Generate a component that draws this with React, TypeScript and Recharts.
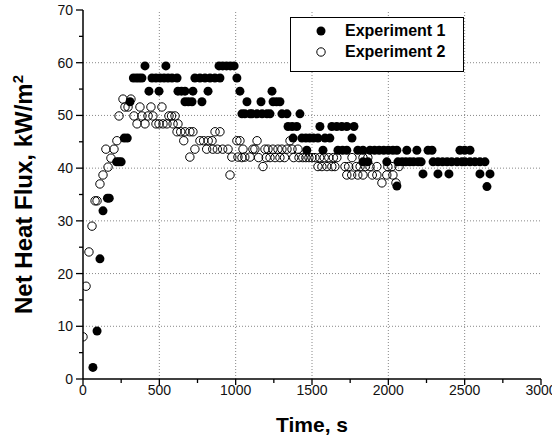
import React from "react";
import { ScatterChart, Scatter, XAxis, YAxis, ReferenceLine, Legend } from "recharts";

const FONT = '"Liberation Sans", Arial, Helvetica, sans-serif';

const seriesNames = ["Experiment 1", "Experiment 2"];
const timeTicks = [0, 250, 500, 750, 1000, 1250, 1500, 1750, 2000, 2250, 2500, 2750, 3000];
const fluxTicks = [0, 5, 10, 15, 20, 25, 30, 35, 40, 45, 50, 55, 60, 65, 70];
const timeGrid = [500, 1000, 1500, 2000, 2500];
const fluxGrid = [10, 20, 30, 40, 50, 60];

// [time s, net heat flux kW/m2]
const experiment1: [number, number][] = [
  [65, 2.2], [92, 9.1], [111, 22.8], [131, 31.9], [160, 34.3], [172, 34.3],
  [220, 41.2], [235, 41.2], [250, 41.2], [270, 45.7], [290, 45.7], [308, 52.6],
  [330, 57.1], [350, 57.1], [368, 57.1], [386, 57.1], [406, 59.4], [432, 54.6],
  [452, 57.1], [478, 57.1], [498, 54.6], [505, 57.1], [531, 57.1], [543, 59.4],
  [557, 57.1], [583, 57.1], [616, 57.1], [622, 54.6], [645, 54.6], [668, 54.6],
  [668, 52.6], [690, 52.6], [714, 52.6], [720, 54.6], [733, 57.1], [766, 57.1],
  [779, 52.6], [799, 57.1], [819, 54.6], [832, 57.1], [864, 57.1], [897, 57.1],
  [891, 59.4], [915, 59.4], [940, 59.4], [965, 59.4], [990, 59.4], [1008, 57.1],
  [1028, 54.6], [1041, 50.3], [1060, 50.3], [1074, 52.6], [1094, 50.3], [1107, 50.3],
  [1140, 50.3], [1166, 52.6], [1173, 50.3], [1205, 50.3], [1225, 50.3], [1238, 54.6],
  [1245, 52.6], [1268, 52.6], [1290, 52.6], [1303, 50.3], [1336, 50.3], [1343, 47.9],
  [1370, 47.9], [1376, 45.7], [1400, 47.9], [1421, 50.3], [1434, 45.7], [1460, 45.7],
  [1466, 43.4], [1485, 45.7], [1510, 45.7], [1539, 45.7], [1552, 47.9], [1572, 43.4],
  [1585, 45.7], [1617, 45.7], [1630, 47.9], [1662, 47.9], [1670, 43.4], [1695, 47.9],
  [1700, 43.4], [1728, 47.9], [1728, 43.4], [1762, 45.7], [1775, 47.9], [1800, 43.4],
  [1834, 43.4], [1834, 41.2], [1866, 41.2], [1880, 43.4], [1910, 43.4], [1940, 43.4],
  [1970, 43.4], [1990, 41.2], [2000, 43.4], [2030, 43.4], [2056, 43.4], [2056, 36.6],
  [2063, 41.2], [2090, 41.2], [2115, 41.2], [2121, 43.4], [2141, 41.2], [2165, 41.2],
  [2187, 43.4], [2195, 41.2], [2215, 41.2], [2227, 38.9], [2260, 43.4], [2286, 43.4],
  [2293, 41.2], [2325, 41.2], [2325, 38.9], [2355, 41.2], [2385, 41.2], [2397, 38.9],
  [2415, 41.2], [2450, 41.2], [2469, 43.4], [2482, 41.2], [2500, 43.4], [2535, 43.4],
  [2502, 41.2], [2535, 41.2], [2567, 41.2], [2600, 41.2], [2600, 38.9], [2633, 41.2],
  [2646, 36.5], [2666, 38.9],
];

const experiment2: [number, number][] = [
  [0, 8.0], [20, 17.6], [39, 24.1], [59, 29.0], [79, 33.8], [92, 33.8],
  [111, 37.0], [131, 38.7], [150, 43.6], [164, 40.2], [183, 41.9], [203, 43.6],
  [222, 45.2], [236, 49.9], [262, 53.1], [275, 51.6], [295, 51.6], [314, 53.1],
  [334, 49.9], [354, 48.4], [373, 51.6], [386, 49.9], [406, 48.4], [426, 49.9],
  [445, 51.6], [458, 49.9], [478, 48.4], [498, 48.4], [517, 51.6], [524, 48.4],
  [550, 48.4], [563, 49.9], [580, 49.9], [603, 49.9], [590, 48.4], [622, 48.4],
  [616, 46.9], [640, 46.9], [660, 45.2], [668, 46.9], [700, 46.9], [700, 42.1],
  [720, 46.9], [733, 43.6], [766, 45.2], [790, 45.2], [810, 43.6], [820, 45.2],
  [845, 45.2], [850, 43.6], [865, 46.9], [880, 43.6], [897, 46.9], [915, 43.6],
  [950, 43.6], [963, 38.7], [975, 42.1], [1008, 45.2], [1015, 42.1], [1028, 45.2],
  [1041, 42.0], [1048, 43.6], [1060, 42.1], [1094, 42.1], [1113, 43.6], [1126, 43.6],
  [1140, 45.2], [1150, 42.0], [1179, 40.3], [1192, 43.6], [1200, 42.0], [1212, 43.6],
  [1225, 42.0], [1244, 43.6], [1258, 42.0], [1277, 43.6], [1290, 42.0], [1303, 43.6],
  [1320, 42.0], [1336, 43.6], [1356, 45.2], [1369, 43.6], [1380, 42.0], [1408, 43.6],
  [1415, 42.0], [1440, 42.0], [1460, 42.0], [1480, 42.0], [1500, 42.0], [1520, 42.0],
  [1539, 40.3], [1550, 42.0], [1565, 40.3], [1580, 42.0], [1598, 40.3], [1610, 42.0],
  [1630, 40.3], [1640, 42.0], [1650, 40.3], [1663, 42.0], [1716, 40.3], [1728, 38.7],
  [1740, 40.3], [1760, 38.7], [1762, 42.0], [1790, 40.3], [1800, 38.7], [1815, 40.3],
  [1834, 38.7], [1834, 42.0], [1850, 40.3], [1866, 42.0], [1880, 40.3], [1895, 38.7],
  [1925, 40.3], [1925, 38.7], [1958, 37.2], [1990, 38.7], [1997, 40.3], [2023, 40.3],
  [2030, 38.7], [2050, 37.2], [2070, 40.3],
];

const toPoints = (rows: [number, number][]) => rows.map(([t, q]) => ({ t, q }));

function BottomTick({ x, y, payload }: any) {
  const major = payload.value % 500 === 0;
  return (
    <g>
      <line x1={x} x2={x} y1={y} y2={y + (major ? 6 : 4)} stroke="#000" strokeWidth={1.3} />
      {major && (
        <text x={x} y={y + 16} textAnchor="middle" fontSize={14} fontFamily={FONT} fill="#111">
          {payload.value}
        </text>
      )}
    </g>
  );
}

function TopTick({ x, y, payload }: any) {
  const major = payload.value % 500 === 0;
  return <line x1={x} x2={x} y1={y} y2={y + (major ? 6 : 4)} stroke="#000" strokeWidth={1.3} />;
}

function LeftTick({ x, y, payload }: any) {
  const major = payload.value % 10 === 0;
  return (
    <g>
      <line x1={x - (major ? 7 : 4)} x2={x} y1={y} y2={y} stroke="#000" strokeWidth={1.3} />
      {major && (
        <text x={x - 10} y={y + 5} textAnchor="end" fontSize={14} fontFamily={FONT} fill="#111">
          {payload.value}
        </text>
      )}
    </g>
  );
}

function RightTick({ x, y, payload }: any) {
  const major = payload.value % 10 === 0;
  return <line x1={x - (major ? 6 : 4)} x2={x} y1={y} y2={y} stroke="#000" strokeWidth={1.3} />;
}

function TimeTitle({ viewBox }: any) {
  return (
    <text x={viewBox.x + viewBox.width / 2} y={viewBox.y + 53} textAnchor="middle"
      fontSize={21} fontWeight="bold" fontFamily={FONT} fill="#000">
      Time, s
    </text>
  );
}

function FluxTitle({ viewBox }: any) {
  const cx = viewBox.x + 32;
  const cy = viewBox.y + viewBox.height / 2;
  return (
    <text x={cx} y={cy} transform={`rotate(-90, ${cx}, ${cy})`} textAnchor="middle"
      fontSize={24} fontWeight="bold" fontFamily={FONT} fill="#000">
      Net Heat Flux, kW/m<tspan fontSize={15} dy={-9}>2</tspan>
    </text>
  );
}

function LegendBox() {
  return (
    <div style={{
      width: 174, height: 55, boxSizing: "border-box", border: "1px solid #000",
      background: "#fff", position: "relative", fontFamily: FONT, fontWeight: "bold", fontSize: 16,
    }}>
      {seriesNames.map((name, i) => (
        <div key={name} style={{ position: "absolute", left: 0, top: 3 + i * 21, height: 20, display: "flex", alignItems: "center" }}>
          <svg width={54} height={20} style={{ display: "block" }}>
            {i === 0
              ? <circle cx={30} cy={10} r={4.5} fill="#000" />
              : <circle cx={30} cy={10} r={4.2} fill="#fff" stroke="#000" strokeWidth={1} />}
          </svg>
          <span style={{ lineHeight: "20px", color: "#000" }}>{name}</span>
        </div>
      ))}
    </div>
  );
}

export default function App() {
  return (
    <div style={{ position: "absolute", left: 0, top: 0, background: "#fff" }}>
      <ScatterChart width={552} height={442} margin={{ top: 10, right: 11, bottom: 0, left: 0 }}>
        <XAxis type="number" dataKey="t" domain={[0, 3000]} ticks={timeTicks} interval={0}
          tickSize={0} tickMargin={0} tickLine={false} tick={<BottomTick />} height={63}
          axisLine={{ stroke: "#000", strokeWidth: 1.5 }} label={<TimeTitle />} allowDataOverflow />
        <XAxis xAxisId="top" orientation="top" type="number" domain={[0, 3000]} ticks={timeTicks}
          interval={0} tickSize={0} tickMargin={0} tickLine={false} tick={<TopTick />} height={0}
          axisLine={{ stroke: "#000", strokeWidth: 1.5 }} />
        <YAxis type="number" dataKey="q" domain={[0, 70]} ticks={fluxTicks} interval={0}
          tickSize={0} tickMargin={0} tickLine={false} tick={<LeftTick />} width={83}
          axisLine={{ stroke: "#000", strokeWidth: 1.5 }} label={<FluxTitle />} allowDataOverflow />
        <YAxis yAxisId="right" orientation="right" type="number" domain={[0, 70]} ticks={fluxTicks}
          interval={0} tickSize={0} tickMargin={0} tickLine={false} tick={<RightTick />} width={0}
          axisLine={{ stroke: "#000", strokeWidth: 1.5 }} />
        {timeGrid.map((t) => (
          <ReferenceLine key={`x${t}`} x={t} stroke="#888" strokeDasharray="1 2" strokeWidth={1} />
        ))}
        {fluxGrid.map((q) => (
          <ReferenceLine key={`y${q}`} y={q} stroke="#888" strokeDasharray="1 2" strokeWidth={1} />
        ))}
        <Legend layout="vertical" align="center" verticalAlign="middle" content={<LegendBox />}
          wrapperStyle={{ left: 290, top: 17, width: 174, height: 55 }} />
        <Scatter name={seriesNames[0]} data={toPoints(experiment1)} isAnimationActive={false}
          shape={(p: any) => <circle cx={p.cx} cy={p.cy} r={4.5} fill="#000" />} />
        <Scatter name={seriesNames[1]} data={toPoints(experiment2)} isAnimationActive={false}
          shape={(p: any) => <circle cx={p.cx} cy={p.cy} r={4.2} fill="none" stroke="#000" strokeWidth={1} />} />
      </ScatterChart>
    </div>
  );
}
